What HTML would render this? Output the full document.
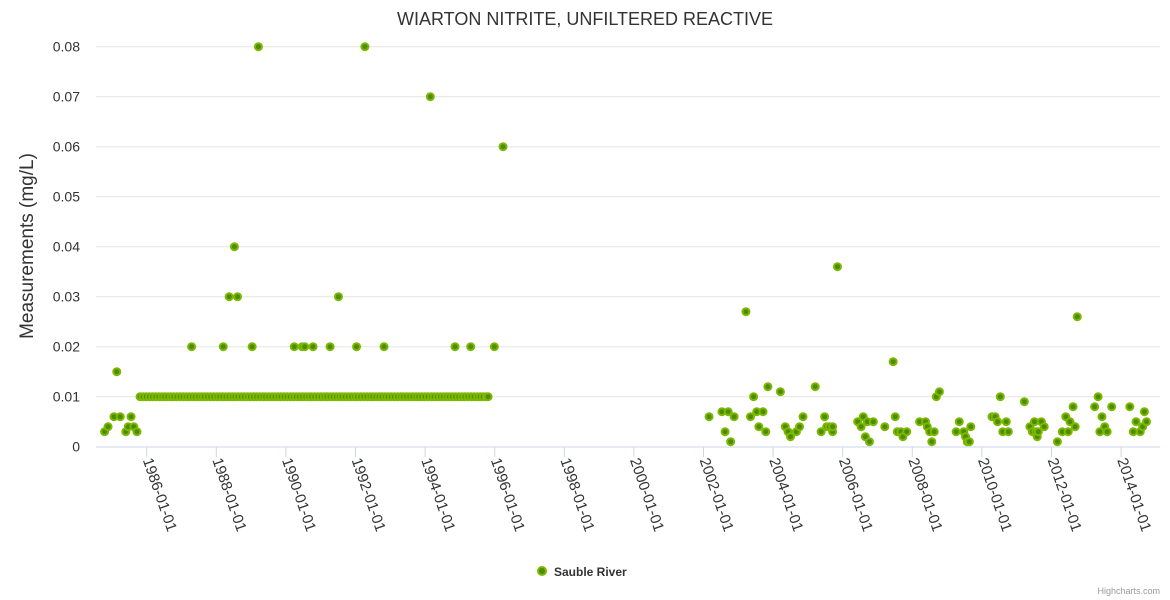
<!DOCTYPE html>
<html><head><meta charset="utf-8"><style>
body{margin:0;background:#fff;font-family:"Liberation Sans",sans-serif}
svg{display:block}
</style></head><body>
<svg id="chart" width="1170" height="600">
<rect width="1170" height="600" fill="#fff"/>
<text x="585" y="25" text-anchor="middle" font-size="18" fill="#333">WIARTON NITRITE, UNFILTERED REACTIVE</text>
<g id="grid"></g>
<g id="yticks"></g>
<text transform="translate(33,246) rotate(-90)" text-anchor="middle" font-size="19" fill="#333">Measurements (mg/L)</text>
<g id="xaxis"></g>
<g id="points"></g>
<g>
<circle cx="542" cy="571" r="4" fill="#4d8c00" stroke="#7cb800" stroke-width="2"/>
<text x="554" y="576" font-size="12" font-weight="bold" fill="#333">Sauble River</text>
</g>
<text x="1160" y="594" text-anchor="end" font-size="9" fill="#999">Highcharts.com</text>
</svg>
<script>
const yTicks=[0,0.01,0.02,0.03,0.04,0.05,0.06,0.07,0.08];
const yTickLabels=["0","0.01","0.02","0.03","0.04","0.05","0.06","0.07","0.08"];
const xTicks=[1986,1988,1990,1992,1994,1996,1998,2000,2002,2004,2006,2008,2010,2012,2014];
const xTickLabels=["1986-01-01","1988-01-01","1990-01-01","1992-01-01","1994-01-01","1996-01-01","1998-01-01","2000-01-01","2002-01-01","2004-01-01","2006-01-01","2008-01-01","2010-01-01","2012-01-01","2014-01-01"];
const earlyPoints=[[1984.79,0.003],[1984.89,0.004],[1985.06,0.006],[1985.14,0.015],[1985.24,0.006],[1985.40,0.003],[1985.47,0.004],[1985.55,0.006],[1985.63,0.004],[1985.72,0.003]];
const basePoints=[[1985.81,0.01],[1985.90,0.01],[1985.99,0.01],[1986.08,0.01],[1986.17,0.01],[1986.26,0.01],[1986.35,0.01],[1986.44,0.01],[1986.52,0.01],[1986.61,0.01],[1986.70,0.01],[1986.78,0.01],[1986.87,0.01],[1986.96,0.01],[1987.05,0.01],[1987.14,0.01],[1987.22,0.01],[1987.31,0.01],[1987.40,0.01],[1987.49,0.01],[1987.58,0.01],[1987.66,0.01],[1987.75,0.01],[1987.84,0.01],[1987.93,0.01],[1988.02,0.01],[1988.10,0.01],[1988.19,0.01],[1988.28,0.01],[1988.37,0.01],[1988.46,0.01],[1988.54,0.01],[1988.63,0.01],[1988.72,0.01],[1988.81,0.01],[1988.90,0.01],[1988.98,0.01],[1989.07,0.01],[1989.16,0.01],[1989.25,0.01],[1989.34,0.01],[1989.42,0.01],[1989.51,0.01],[1989.60,0.01],[1989.69,0.01],[1989.78,0.01],[1989.86,0.01],[1989.95,0.01],[1990.04,0.01],[1990.13,0.01],[1990.22,0.01],[1990.30,0.01],[1990.39,0.01],[1990.48,0.01],[1990.57,0.01],[1990.66,0.01],[1990.74,0.01],[1990.83,0.01],[1990.92,0.01],[1991.01,0.01],[1991.10,0.01],[1991.18,0.01],[1991.27,0.01],[1991.36,0.01],[1991.45,0.01],[1991.54,0.01],[1991.62,0.01],[1991.71,0.01],[1991.80,0.01],[1991.89,0.01],[1991.98,0.01],[1992.06,0.01],[1992.15,0.01],[1992.24,0.01],[1992.33,0.01],[1992.42,0.01],[1992.50,0.01],[1992.59,0.01],[1992.68,0.01],[1992.77,0.01],[1992.86,0.01],[1992.94,0.01],[1993.03,0.01],[1993.12,0.01],[1993.21,0.01],[1993.30,0.01],[1993.38,0.01],[1993.47,0.01],[1993.56,0.01],[1993.65,0.01],[1993.74,0.01],[1993.82,0.01],[1993.91,0.01],[1994.00,0.01],[1994.09,0.01],[1994.18,0.01],[1994.26,0.01],[1994.35,0.01],[1994.44,0.01],[1994.53,0.01],[1994.62,0.01],[1994.70,0.01],[1994.79,0.01],[1994.88,0.01],[1994.97,0.01],[1995.06,0.01],[1995.14,0.01],[1995.23,0.01],[1995.32,0.01],[1995.41,0.01],[1995.50,0.01],[1995.58,0.01],[1995.67,0.01],[1995.76,0.01],[1995.81,0.01]];
const highPoints=[[1987.29,0.02],[1988.20,0.02],[1989.03,0.02],[1990.24,0.02],[1990.47,0.02],[1990.54,0.02],[1990.78,0.02],[1991.27,0.02],[1992.03,0.02],[1992.82,0.02],[1994.86,0.02],[1995.31,0.02],[1995.99,0.02],[1988.37,0.03],[1988.61,0.03],[1991.51,0.03],[1988.52,0.04],[1989.21,0.08],[1992.27,0.08],[1994.15,0.07],[1996.24,0.06]];
const latePoints=[[2002.16,0.006],[2002.53,0.007],[2002.62,0.003],[2002.71,0.007],[2002.78,0.001],[2002.88,0.006],[2003.22,0.027],[2003.35,0.006],[2003.44,0.010],[2003.53,0.007],[2003.59,0.004],[2003.71,0.007],[2003.79,0.003],[2003.85,0.012],[2004.21,0.011],[2004.35,0.004],[2004.43,0.003],[2004.50,0.002],[2004.67,0.003],[2004.76,0.004],[2004.86,0.006],[2005.21,0.012],[2005.38,0.003],[2005.48,0.006],[2005.54,0.004],[2005.62,0.004],[2005.71,0.003],[2005.71,0.004],[2005.85,0.036],[2006.43,0.005],[2006.53,0.004],[2006.59,0.006],[2006.65,0.002],[2006.71,0.005],[2006.77,0.001],[2006.88,0.005],[2007.21,0.004],[2007.45,0.017],[2007.51,0.006],[2007.57,0.003],[2007.67,0.003],[2007.73,0.002],[2007.84,0.003],[2008.21,0.005],[2008.38,0.005],[2008.43,0.004],[2008.50,0.003],[2008.56,0.001],[2008.63,0.003],[2008.69,0.010],[2008.78,0.011],[2009.26,0.003],[2009.35,0.005],[2009.48,0.003],[2009.53,0.002],[2009.58,0.001],[2009.64,0.001],[2009.68,0.004],[2010.29,0.006],[2010.38,0.006],[2010.45,0.005],[2010.53,0.010],[2010.60,0.003],[2010.70,0.005],[2010.76,0.003],[2011.22,0.009],[2011.38,0.004],[2011.45,0.003],[2011.51,0.005],[2011.55,0.003],[2011.59,0.002],[2011.62,0.003],[2011.71,0.005],[2011.79,0.004],[2012.17,0.001],[2012.31,0.003],[2012.41,0.006],[2012.48,0.003],[2012.53,0.005],[2012.62,0.008],[2012.68,0.004],[2012.74,0.026],[2013.24,0.008],[2013.34,0.010],[2013.39,0.003],[2013.45,0.006],[2013.53,0.004],[2013.60,0.003],[2013.73,0.008],[2014.25,0.008],[2014.35,0.003],[2014.43,0.005],[2014.55,0.003],[2014.62,0.004],[2014.67,0.007],[2014.73,0.005]];

const NS="http://www.w3.org/2000/svg";
function xScale(yr){return 146.7+(yr-1986)*34.8;}
function yScale(v){return 446.7-v*5000;}
const grid=document.getElementById('grid'),yt=document.getElementById('yticks'),xa=document.getElementById('xaxis'),pts=document.getElementById('points');
yTicks.forEach((v,i)=>{
  if(v>0){const l=document.createElementNS(NS,'line');
  
  
  l.setAttribute('x1',96);l.setAttribute('x2',1160);l.setAttribute('y1',yScale(v));l.setAttribute('y2',yScale(v));
  l.setAttribute('stroke','#e6e6e6');grid.appendChild(l);}
  const t=document.createElementNS(NS,'text');
  
  
  t.setAttribute('x',80);t.setAttribute('y',yScale(v)+5);t.setAttribute('text-anchor','end');
  t.setAttribute('font-size','14');t.setAttribute('fill','#333');t.textContent=yTickLabels[i];yt.appendChild(t);
});
const base=document.createElementNS(NS,'line');


base.setAttribute('x1',96);base.setAttribute('x2',1160);base.setAttribute('y1',447);base.setAttribute('y2',447);base.setAttribute('stroke','#ccd6eb');xa.appendChild(base);
xTicks.forEach((yr,i)=>{
  const x=xScale(yr);
  const l=document.createElementNS(NS,'line');
  
  
  l.setAttribute('x1',x);l.setAttribute('x2',x);l.setAttribute('y1',447);l.setAttribute('y2',457);l.setAttribute('stroke','#ccd6eb');xa.appendChild(l);
  const t=document.createElementNS(NS,'text');
  
  
  t.setAttribute('transform','translate('+(x-4)+',460) rotate(71)');
  t.setAttribute('font-size','15');t.setAttribute('fill','#333');t.textContent=xTickLabels[i];xa.appendChild(t);
});
[earlyPoints,basePoints,highPoints,latePoints].forEach(series=>{
  series.forEach(p=>{
    const c=document.createElementNS(NS,'circle');
    
    
    c.setAttribute('cx',xScale(p[0]));c.setAttribute('cy',yScale(p[1]));c.setAttribute('r',3.5);
    c.setAttribute('fill','#4d8c00');c.setAttribute('stroke','#7cb800');c.setAttribute('stroke-width','2');
    pts.appendChild(c);
  });
});
</script>
</body></html>
